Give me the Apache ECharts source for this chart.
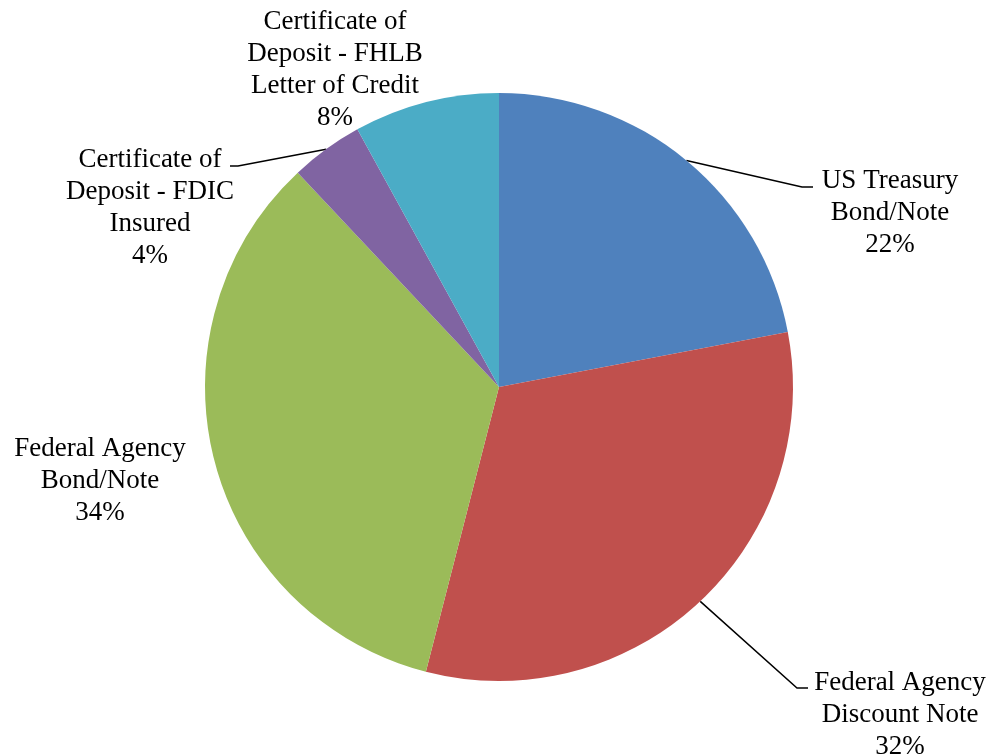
<!DOCTYPE html>
<html>
<head>
<meta charset="utf-8">
<script src="https://cdn.jsdelivr.net/npm/echarts@6/dist/echarts.min.js"></script>
<style>
  html, body { margin: 0; padding: 0; background: #ffffff; }
  #chart { width: 993px; height: 756px; }
</style>
</head>
<body>
<div id="chart"></div>
<script>
// Portfolio composition by investment type (share of total, %)
const categories = [
  'US Treasury\nBond/Note',
  'Federal Agency\nDiscount Note',
  'Federal Agency\nBond/Note',
  'Certificate of\nDeposit - FDIC\nInsured',
  'Certificate of\nDeposit - FHLB\nLetter of Credit'
];
const shares = [22, 32, 34, 4, 8];

const sliceColors = ['#4F81BD', '#C0504D', '#9BBB59', '#8064A2', '#4BACC6'];

// Label block centres (px) and leader-line elbow/end points; null = no leader line
const labelCentres = [[890, 213], [900, 715], [100, 481], [150, 208], [335, 70]];
const leaderEnds = [
  [[802, 187], [813, 187]],
  [[797, 688], [808, 688]],
  null,
  [[238, 166], [230, 166]],
  null
];

const chart = echarts.init(document.getElementById('chart'), null, { renderer: 'canvas' });

const seriesData = categories.map((name, i) => ({
  name: name,
  value: shares[i],
  itemStyle: { color: sliceColors[i] },
  labelLine: { show: leaderEnds[i] !== null }
}));

chart.setOption({
  backgroundColor: '#ffffff',
  animation: false,
  series: [{
    type: 'pie',
    center: [499, 387],
    radius: [0, 294],
    startAngle: 90,
    clockwise: true,
    avoidLabelOverlap: false,
    data: seriesData,
    itemStyle: { borderWidth: 0 },
    label: {
      show: true,
      position: 'outside',
      formatter: p => p.name + '\n' + Math.round(p.percent) + '%',
      fontFamily: '"Liberation Serif", "Times New Roman", serif',
      fontSize: 27,
      lineHeight: 32,
      color: '#000000',
      align: 'center'
    },
    labelLine: {
      show: true,
      length: 20,
      length2: 10,
      smooth: false,
      lineStyle: { color: '#000000', width: 1.5 }
    },
    emphasis: { disabled: true },
    labelLayout: function (params) {
      const i = params.dataIndex;
      const c = labelCentres[i];
      const out = {
        x: c[0],
        y: c[1],
        align: 'center',
        verticalAlign: 'middle'
      };
      const ends = leaderEnds[i];
      if (ends && params.labelLinePoints) {
        const start = params.labelLinePoints[0];
        out.labelLinePoints = [start, ends[0], ends[1]];
      }
      return out;
    }
  }]
});
</script>
</body>
</html>
